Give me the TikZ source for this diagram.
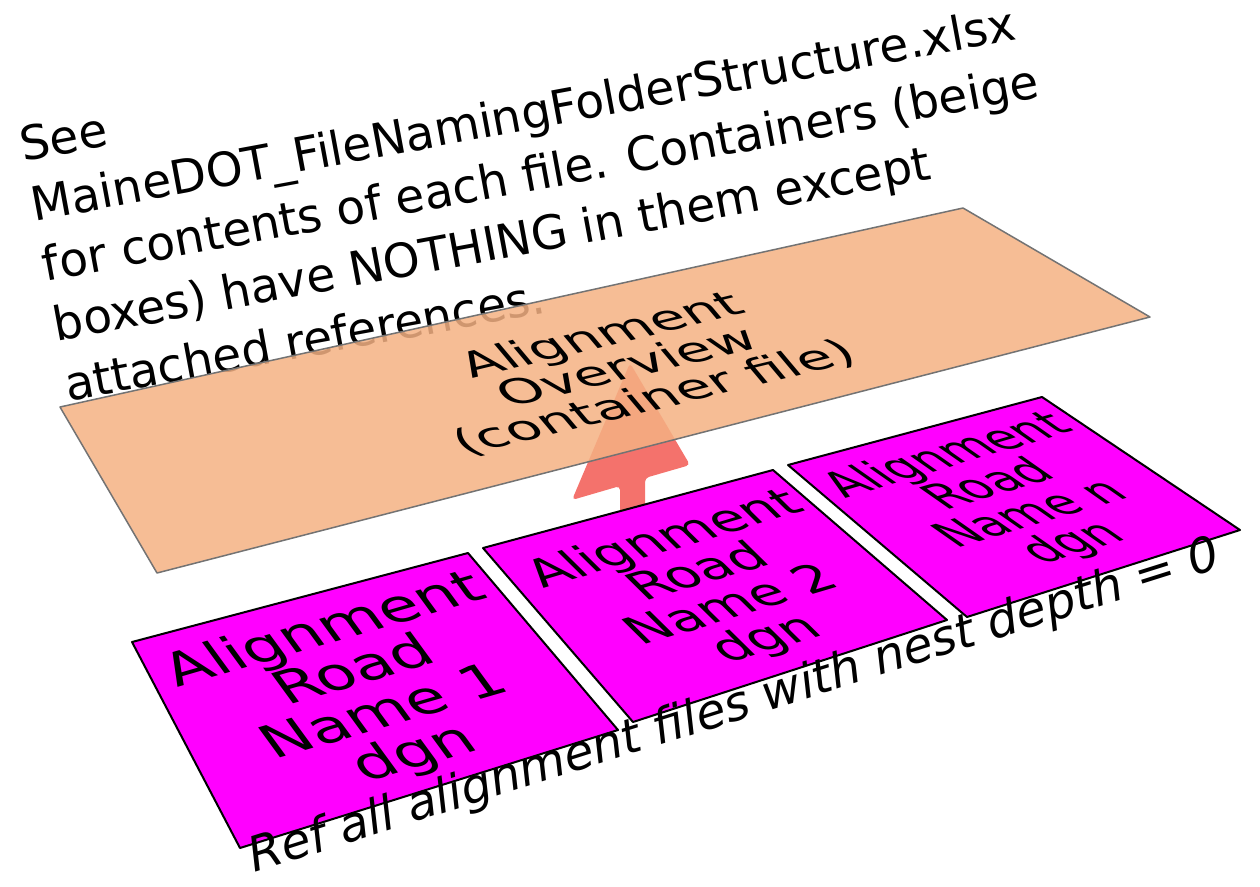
\documentclass[tikz,border=0pt]{standalone}
\usepackage{fontspec}
\setmainfont{DejaVu Sans}
\definecolor{beige}{HTML}{F4B183}
\definecolor{arrowred}{HTML}{F4726C}
\definecolor{dgnpink}{HTML}{FF00FF}
\tikzset{
  container/.style={fill=beige, fill opacity=0.85, draw=black!55, line width=1.5pt, line join=round},
  dgnfile/.style={fill=dgnpink, draw=black, line width=2pt, line join=round},
  cardtext/.style={transform shape, inner sep=0pt, align=center, font=\fontsize{17}{17}\selectfont},
}
\begin{document}
\begin{tikzpicture}[x=1pt,y=1pt]
\useasboundingbox (0,0) rectangle (1260,-886);

\node[anchor=north west, rotate=10.5, align=left, inner sep=0pt,
      font=\fontsize{47}{61}\selectfont] (note) at (17,-127)
  {See\\MaineDOT\_FileNamingFolderStructure.xlsx\\for contents of each file. Containers (beige\\boxes) have NOTHING in them except\\attached references.};

\coordinate (ctl) at (60,-407);
\coordinate (ctr) at (963,-208);
\coordinate (cr) at (1150,-317);
\coordinate (cbl) at (157,-573);

\fill[arrowred, rounded corners=4pt] (630,-363) -- (690,-465) -- (645,-478) -- (645,-540)
  -- (620,-540) -- (620,-486) -- (572,-500) -- cycle;

\draw[container] (ctl) -- (ctr) -- (cr) -- (cbl) -- cycle;
\begin{scope}[cm={3.16,0.758,-1.553,1.848,(628,-367)}]
  \node[cardtext] (overview) {Alignment\\Overview\\(container file)};
\end{scope}

\draw[dgnfile] (132,-642) -- (468,-553) -- (618,-730) -- (240,-848) -- cycle;
\begin{scope}[cm={3.57,1.035,-1.763,2.414,(370,-693)}]
  \node[cardtext] (road1) {Alignment\\Road\\Name 1\\dgn};
\end{scope}

\draw[dgnfile] (483,-548) -- (773,-470) -- (947,-620) -- (633,-722) -- cycle;
\begin{scope}[cm={3.02,0.90,-1.984,1.954,(716,-590)}]
  \node[cardtext] (road2) {Alignment\\Road\\Name 2\\dgn};
\end{scope}

\draw[dgnfile] (788,-465) -- (1042,-397) -- (1240,-530) -- (967,-617) -- cycle;
\begin{scope}[cm={2.635,0.775,-2.455,1.716,(1011,-500)}]
  \node[cardtext] (roadn) {Alignment\\Road\\Name n\\dgn};
\end{scope}

\node[anchor=base west, rotate=17.5, inner sep=0pt,
      font=\itshape\fontsize{48}{58}\selectfont] (refall) at (254,-873)
  {Ref all alignment files with nest depth = 0};
\end{tikzpicture}
\end{document}
